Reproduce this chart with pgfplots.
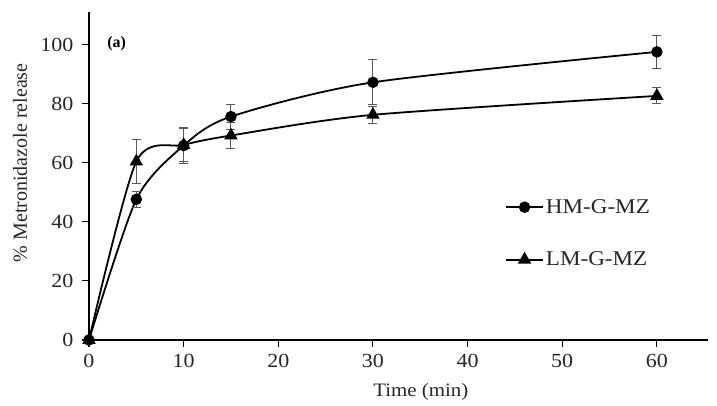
\documentclass[border=0pt]{standalone}
\usepackage{fontspec}
\setmainfont{Liberation Serif}
\newfontfamily\stretched[FakeStretch=1.1]{Liberation Serif}
\usepackage{pgfplots}
\pgfplotsset{compat=1.18}
\definecolor{errc}{HTML}{595959}
\definecolor{txt}{HTML}{262626}
\begin{document}
\begin{tikzpicture}
\begin{axis}[
  name=ax,
  scale only axis,
  width=619pt, height=328pt,
  xmin=0, xmax=65.4, ymin=0, ymax=111,
  axis lines=left,
  axis line style={-, line width=1.1pt, black},
  xtick={0,10,...,60}, ytick={0,20,...,100},
  tick align=outside, major tick length=7pt,
  tick style={line width=1.1pt, black},
  /pgf/number format/assume math mode=true,
  ticklabel style={font=\stretched\fontsize{20}{22}\selectfont, text=txt},
  yticklabel style={xshift=-5pt},
  xticklabel style={yshift=-4pt},
  xlabel={Time (min)}, ylabel={\% Metronidazole release},
  every axis x label/.style={at={(rel axis cs:0.536,0)}, anchor=center, yshift=-52pt,
    font=\stretched\fontsize{19}{21}\selectfont, text=txt},
  every axis y label/.style={at={(rel axis cs:0,0.54)}, anchor=center, xshift=-69pt, rotate=90,
    font=\fontsize{20}{22}\selectfont, text=txt},
  clip=false,
  legend cell align=left,
  legend image code/.code={\draw[mark repeat=2,mark phase=2,#1] plot coordinates {(0cm,0cm)(0.65cm,0cm)(1.3cm,0cm)};},
  legend style={draw=none, fill=none, at={(rel axis cs:0.672,0.325)}, anchor=west,
    font=\stretched\fontsize{21}{24}\selectfont, text=txt, row sep=33pt, inner sep=0pt},
  error bars/y dir=both, error bars/y explicit,
  error bars/error bar style={color=errc, line width=1pt},
  error bars/error mark options={rotate=90, color=errc, mark size=4.5pt, line width=1pt},
]
\addplot[black, line width=1.8pt, smooth, tension=0.45, mark=*, mark size=4.8pt, mark options={solid}]
  coordinates {(0,0) +- (0,0) (5,47.6) +- (0,2.8) (10,65.8) +- (0,6.0) (15,75.6) +- (0,4.2) (30,87.2) +- (0,7.6) (60,97.5) +- (0,5.5)};
\addlegendentry{HM-G-MZ}
\addplot[black, line width=1.8pt, smooth, tension=0.45, mark=triangle*, mark size=6pt, mark options={solid}]
  coordinates {(0,0) +- (0,0) (5,60.4) +- (0,7.6) (10,66.0) +- (0,5.5) (15,69.2) +- (0,4.5) (30,76.2) +- (0,2.8) (60,82.6) +- (0,2.7)};
\addlegendentry{LM-G-MZ}
\node[font=\bfseries\fontsize{16}{18}\selectfont, anchor=west, text=black] at (rel axis cs:0.024,0.902) {(a)};
\end{axis}
\pgfresetboundingbox
\path[use as bounding box] ([xshift=-89pt,yshift=-66pt]ax.south west) rectangle ([xshift=9pt,yshift=12pt]ax.north east);
\end{tikzpicture}
\end{document}
